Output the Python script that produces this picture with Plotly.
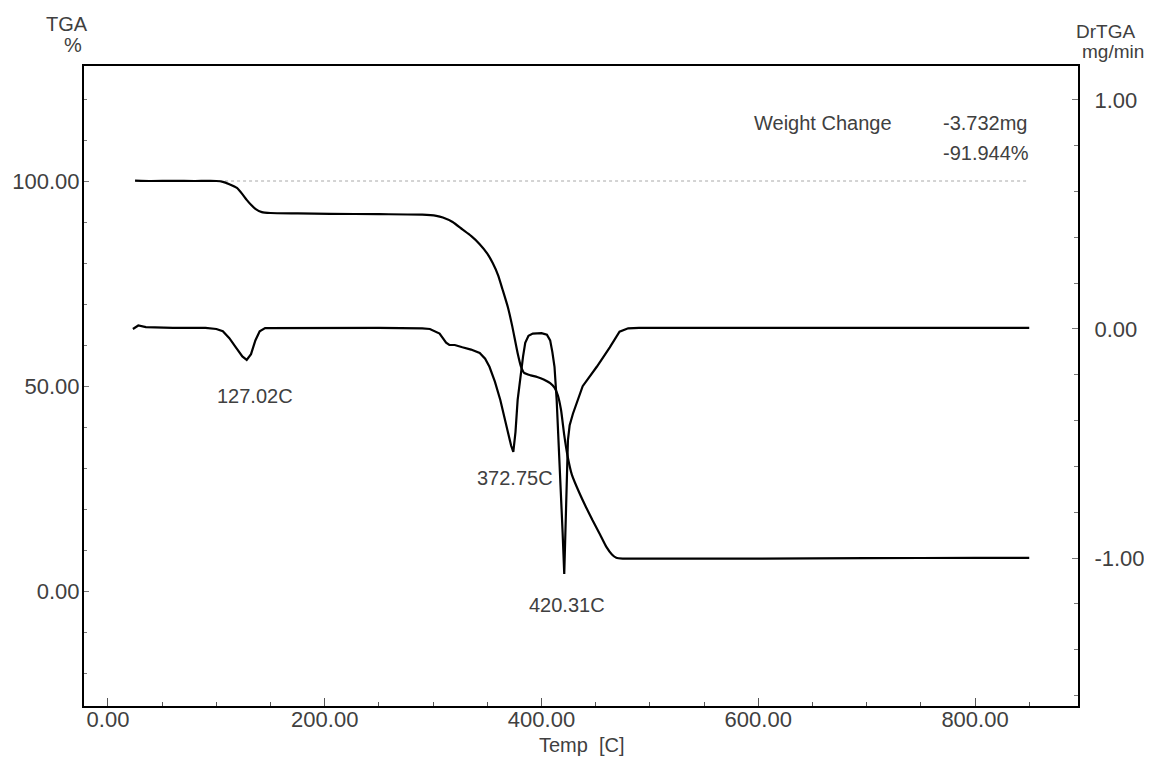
import plotly.graph_objects as go

# ---------------- data ----------------
tga_temp = [25, 40, 60, 80, 100, 106, 112, 119, 124, 128, 132, 136, 142, 150, 175, 205, 250,
            290, 303, 309, 318, 327, 335, 343, 350, 355, 360, 364, 369, 373, 378, 381, 384,
            390, 396, 402, 408, 412, 415, 418, 421, 424, 428, 435, 441, 447, 454, 460, 465,
            469, 475, 500, 600, 700, 800, 850]
tga_pct = [100.1, 100.0, 100.05, 100.0, 100.0, 99.8, 99.2, 98.3, 96.8, 95.4, 94.2, 93.2, 92.4,
           92.2, 92.1, 92.0, 91.9, 91.8, 91.5, 91.1, 90.0, 88.2, 86.6, 84.6, 82.3, 80.0, 77.0,
           73.6, 69.2, 64.6, 58.0, 54.8, 53.2, 52.6, 52.2, 51.6, 50.7, 49.6, 47.8, 44.2, 38.0,
           33.0, 28.4, 23.9, 20.5, 17.3, 13.8, 10.7, 8.9, 8.1, 7.9, 7.9, 7.9, 8.0, 8.1, 8.1]

dtg_temp = [23, 28, 35, 60, 90, 100, 106, 112, 118, 124, 128, 132, 136, 140, 145, 200, 250,
            290, 297, 306, 312, 315, 320, 327, 335, 343, 348, 352, 357, 362, 366, 369, 372,
            374, 376, 378, 380.5, 383, 385, 388, 392, 400, 405, 408, 410, 412, 414, 417,
            419.5, 421, 422.5, 424.4, 426, 429, 438, 451, 463, 472, 480, 490, 600, 700, 800, 850]
dtg_val = [0.0, 0.015, 0.008, 0.005, 0.005, 0.0, -0.01, -0.04, -0.08, -0.12, -0.135, -0.11,
           -0.05, -0.01, 0.004, 0.005, 0.005, 0.003, 0.0, -0.02, -0.06, -0.07, -0.07, -0.08,
           -0.09, -0.105, -0.13, -0.165, -0.23, -0.31, -0.39, -0.455, -0.51, -0.537, -0.45,
           -0.31, -0.2, -0.12, -0.06, -0.03, -0.02, -0.018, -0.025, -0.05, -0.1, -0.165, -0.31,
           -0.6, -0.89, -1.07, -0.75, -0.485, -0.42, -0.37, -0.25, -0.165, -0.08, -0.012, 0.003,
           0.005, 0.005, 0.005, 0.005, 0.005]

ref_x = [25, 848]
ref_y = [100, 100]

x_ticks = [0, 200, 400, 600, 800]
x_labels = ["0.00", "200.00", "400.00", "600.00", "800.00"]
y_ticks = [0, 50, 100]
y_labels = ["0.00", "50.00", "100.00"]
y2_ticks = [-1, 0, 1]
y2_labels = ["-1.00", "0.00", "1.00"]

peak_labels = ["127.02C", "372.75C", "420.31C"]
peak_label_pos = [(135.6, 47.6), (375.5, 27.6), (423.4, -3.4)]

FONT = "Liberation Sans, Arial, Helvetica, sans-serif"
TXT = "#404040"

fig = go.Figure()
fig.add_trace(go.Scatter(x=ref_x, y=ref_y, mode="lines",
                         line=dict(color="#a8a8a8", width=1, dash="dot"),
                         hoverinfo="skip", showlegend=False))
fig.add_trace(go.Scatter(x=tga_temp, y=tga_pct, mode="lines",
                         line=dict(color="black", width=2.2, shape="spline", smoothing=0.5),
                         showlegend=False))
fig.add_trace(go.Scatter(x=dtg_temp, y=dtg_val, mode="lines", yaxis="y2",
                         line=dict(color="black", width=2.2),
                         showlegend=False))

for (px, py), lab in zip(peak_label_pos, peak_labels):
    fig.add_annotation(x=px, y=py, xref="x", yref="y", text=lab, showarrow=False,
                       xanchor="center", yanchor="middle",
                       font=dict(family=FONT, size=20, color=TXT))

for x0, y0, t in [(594, 114.1, "Weight Change"), (768.5, 114.1, "-3.732mg"),
                  (768.5, 106.8, "-91.944%")]:
    fig.add_annotation(x=x0, y=y0, xref="x", yref="y", text=t,
                       xanchor="left", yanchor="middle", showarrow=False,
                       font=dict(family=FONT, size=20, color=TXT))


def px2paper(px, py):
    # screen pixel -> paper coords of the plot area (84..1078 x 66..706 on screen)
    return (px - 84) / 994, (706 - py) / 640


for text, (px, py), fs in [("TGA", (67, 24), 20), ("%", (73, 45), 20),
                           ("DrTGA", (1105, 31), 19), ("mg/min", (1113, 52), 19),
                           ("Temp&nbsp; [C]", (582, 745), 20)]:
    xp, yp = px2paper(px, py)
    fig.add_annotation(x=xp, y=yp, xref="paper", yref="paper", text=text,
                       xanchor="center", yanchor="middle",
                       showarrow=False, font=dict(family=FONT, size=fs, color=TXT))

fig.update_layout(
    width=1144, height=752,
    margin=dict(l=76, r=74, t=58, b=54, pad=0),
    paper_bgcolor="white", plot_bgcolor="white",
    font=dict(family=FONT, color=TXT),
    xaxis=dict(range=[-22.1, 895], showgrid=False, zeroline=False, automargin=False,
               showline=True, linecolor="black", linewidth=2, mirror=True,
               tickmode="array", tickvals=x_ticks, ticktext=x_labels,
               ticks="inside", ticklen=8, tickcolor="#555", tickwidth=1,
               ticklabelstandoff=-7,
               tickfont=dict(family=FONT, size=22, color=TXT),
               minor=dict(tickmode="linear", tick0=0, dtick=50, ticks="inside",
                          ticklen=4, tickcolor="#555", tickwidth=1)),
    yaxis=dict(range=[-28.05, 128.05], showgrid=False, zeroline=False, automargin=False,
               showline=True, linecolor="black", linewidth=2,
               tickmode="array", tickvals=y_ticks, ticktext=y_labels,
               ticks="inside", ticklen=5, tickcolor="#777", tickwidth=1,
               ticklabelstandoff=-2,
               tickfont=dict(family=FONT, size=22, color=TXT),
               minor=dict(tickmode="linear", tick0=0, dtick=10, ticks="inside",
                          ticklen=3, tickcolor="#777", tickwidth=1)),
    yaxis2=dict(range=[-1.646, 1.148], overlaying="y", side="right",
                showgrid=False, zeroline=False, automargin=False,
                showline=True, linecolor="black", linewidth=2,
                tickmode="array", tickvals=y2_ticks, ticktext=y2_labels,
                ticks="inside", ticklen=6, tickcolor="#777", tickwidth=1,
                ticklabelstandoff=10,
                tickfont=dict(family=FONT, size=22, color=TXT),
                minor=dict(tickmode="linear", tick0=0, dtick=0.2, ticks="inside",
                           ticklen=4, tickcolor="#777", tickwidth=1)),
)

fig.write_html("out.html")
